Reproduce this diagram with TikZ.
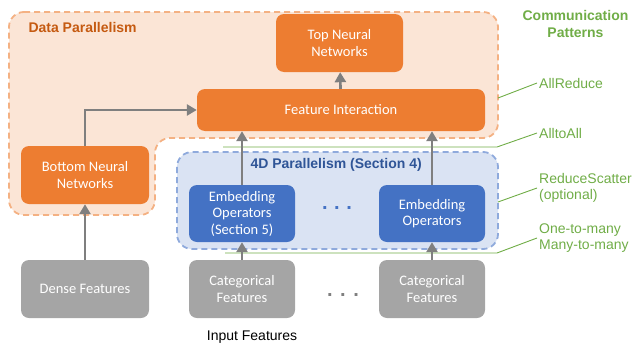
\documentclass[tikz,border=0pt]{standalone}
\usepackage{fontspec}
\setmainfont{Carlito}
\newfontfamily\arialfont{Liberation Sans}
\usetikzlibrary{arrows.meta,positioning}

\definecolor{boxorange}{HTML}{ED7D31}
\definecolor{boxblue}{HTML}{4472C4}
\definecolor{boxgray}{HTML}{A5A5A5}
\definecolor{arrgray}{HTML}{7F7F7F}
\definecolor{dpfill}{HTML}{FBE5D6}
\definecolor{dpline}{HTML}{F4B183}
\definecolor{dptext}{HTML}{C55A11}
\definecolor{pfill}{HTML}{DAE3F3}
\definecolor{pline}{HTML}{8FAADC}
\definecolor{ptext}{HTML}{2F5597}
\definecolor{commgreen}{HTML}{70AD47}

\tikzset{
  blockbox/.style={rounded corners=8pt, text=white, align=center,
    font=\fontsize{14.5}{16.5}\selectfont, inner sep=2pt},
  obox/.style={blockbox, fill=boxorange},
  bbox/.style={blockbox, fill=boxblue},
  gbox/.style={blockbox, fill=boxgray},
  flow/.style={draw=arrgray, line width=2.6pt,
    -{Triangle[width=11pt,length=10pt]}},
  region/.style={line width=1.8pt, dash pattern=on 6pt off 4pt, rounded corners=15pt},
  commline/.style={draw=commgreen, line width=0.9pt},
  commlabel/.style={text=commgreen, anchor=west, align=left, inner sep=2pt,
    font=\arialfont\fontsize{14}{16.5}\selectfont},
  dots/.style={anchor=base, font=\arialfont\bfseries\fontsize{20}{20}\selectfont},
}

\begin{document}
\begin{tikzpicture}[x=1pt,y=-1pt]
\useasboundingbox (0,0) rectangle (636,348);

% regions
\draw[region, draw=dpline, fill=dpfill]
  (9,12) -- (498,12) -- (498,138) -- (155,138) -- (155,215) -- (9,215) -- cycle;
\draw[region, draw=pline, fill=pfill] (177,152) rectangle (498,249);

\node[anchor=west, text=dptext, font=\arialfont\bfseries\fontsize{14}{16}\selectfont] (dplab) at (25,27) {Data Parallelism};
\node[anchor=west, text=ptext, font=\arialfont\bfseries\fontsize{14}{16}\selectfont] (plab) at (247,165) {4D Parallelism (Section 4)};

% blocks
\node[obox, minimum width=127pt, minimum height=58pt] (topnn) at (339.5,43) {Top Neural\\Networks};
\node[obox, minimum width=288pt, minimum height=42pt] (featint) at (341,110) {Feature Interaction};
\node[obox, minimum width=128pt, minimum height=58pt] (botnn) at (85,175) {Bottom Neural\\Networks};
\node[bbox, minimum width=106pt, minimum height=57pt] (emb1) at (242,213.5) {Embedding\\Operators\\(Section 5)};
\node[bbox, minimum width=106pt, minimum height=57pt] (emb2) at (432,213.5) {Embedding\\Operators};
\node[gbox, minimum width=128pt, minimum height=58pt] (dense) at (85,289) {Dense Features};
\node[gbox, minimum width=106pt, minimum height=58pt] (cat1) at (242,289) {Categorical\\Features};
\node[gbox, minimum width=106pt, minimum height=58pt] (cat2) at (432,289) {Categorical\\Features};

\node[dots, text=boxblue] (bdots) at (337,209) {.\hspace{6.5pt}.\hspace{6.5pt}.};
\node[dots, text=arrgray] (gdots) at (343,296) {.\hspace{7.5pt}.\hspace{7.5pt}.};

\node[font=\arialfont\fontsize{14}{16}\selectfont] (inlab) at (252,337) {Input Features};

% communication patterns
\node[text=commgreen, align=center, font=\arialfont\bfseries\fontsize{14}{17}\selectfont] (commlab) at (575.5,23.5) {Communication\\Patterns};
\node[commlabel] (allred) at (537,83) {AllReduce};
\node[commlabel] (alltoall) at (537,133) {AlltoAll};
\node[commlabel] (redsc) at (537,188) {ReduceScatter\\(optional)};
\node[commlabel] (onemany) at (537,238) {One-to-many\\Many-to-many};

\coordinate (arstart) at (498,98);
\coordinate (a2astart) at (223,147);
\coordinate (a2abend) at (497,147);
\coordinate (rsstart) at (498,202);
\coordinate (omstart) at (225,253);
\coordinate (ombend) at (497,253);

\draw[commline] (arstart) -- (allred.west);
\draw[commline] (a2astart) -- (a2abend) -- (alltoall.west);
\draw[commline] (rsstart) -- (redsc.west);
\draw[commline] (omstart) -- (ombend) -- (onemany.west);

% data flow
\draw[flow] (dense) -- (botnn);
\draw[flow] (botnn.north) |- (featint.west);
\draw[flow] (featint) -- (topnn);
\draw[flow] (cat1) -- (emb1);
\draw[flow] (cat2) -- (emb2);
\draw[flow] (emb1.north) -- (emb1.north |- featint.south);
\draw[flow] (emb2.north) -- (emb2.north |- featint.south);

\end{tikzpicture}
\end{document}
